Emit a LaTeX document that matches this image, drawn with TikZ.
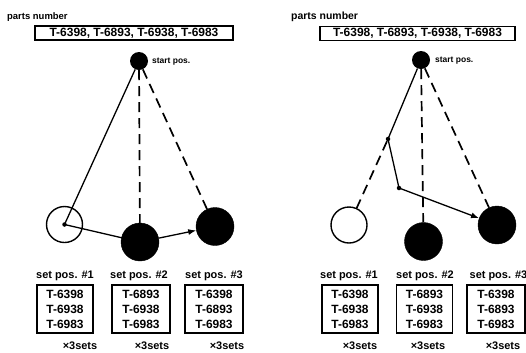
\documentclass[tikz,border=0pt]{standalone}
\usepackage{fontspec}
\setmainfont{Liberation Sans}
\usetikzlibrary{arrows.meta}

\newcommand\fsz[2]{\fontsize{#1}{#2}\selectfont\bfseries}

\tikzset{
  bigdot/.style={circle, fill=black, draw=black, minimum size=38bp, inner sep=0},
  hollow/.style={circle, draw=black, line width=1.4bp, minimum size=36bp, inner sep=0},
  startdot/.style={circle, fill=black, minimum size=18bp, inner sep=0},
  tinydot/.style={circle, fill=black, minimum size=4.5bp, inner sep=0},
  pathline/.style={line width=1.3bp},
  guide/.style={line width=1.7bp, dash pattern=on 10bp off 6bp},
  movearrow/.style={pathline, -{Latex[length=8bp,width=6bp]}},
  topbox/.style={draw, line width=1.6bp, minimum height=14bp, inner sep=0, font=\fsz{12}{14}},
  listbox/.style={draw, line width=1.6bp, minimum width=56bp, minimum height=48bp,
                  inner sep=0, align=center, font=\fsz{12}{15}},
  caption/.style={inner sep=0, font=\fsz{11}{12}},
  setcount/.style={inner sep=0, font=\fsz{11}{12}},
}

\begin{document}
\begin{tikzpicture}[x=1bp, y=-1bp]
\useasboundingbox (0,0) rectangle (526,352);

% ---------------- left panel: direct move ----------------
\node[anchor=base west, inner sep=0, font=\fsz{9.5}{11}] (pnL) at (7,19) {parts number};
\node[topbox, minimum width=198bp] (listL) at (134,33) {T-6398, T-6893, T-6938, T-6983};

\node[startdot] (sL) at (139,61) {};
\node[anchor=west, inner sep=0, font=\fsz{8.5}{10}] (spL) at (152,62) {start pos.};

\node[hollow]  (oL) at (64.5,224.5) {};
\node[bigdot]  (mL) at (140,242) {};
\node[bigdot]  (rL) at (215,226.5) {};
\node[tinydot] (cL) at (oL.center) {};

\draw[pathline] (sL) -- (cL.center);
\draw[guide] (sL) -- (mL);
\draw[guide] (sL) -- (rL);
\draw[pathline] (cL.center) -- (mL.center);
\draw[movearrow] (mL) -- (rL);

\node[caption] (t1L) at (65,276)  {set pos. \#1};
\node[caption] (t2L) at (139,276) {set pos. \#2};
\node[caption] (t3L) at (214,276) {set pos. \#3};

\node[listbox] (b1L) at (65,309)  {T-6398\\T-6938\\T-6983};
\node[listbox, minimum width=58bp] (b2L) at (141,309) {T-6893\\T-6938\\T-6983};
\node[listbox, minimum width=58bp] (b3L) at (214,309) {T-6398\\T-6893\\T-6983};

\node[setcount] (n1L) at (80,346)  {×3sets};
\node[setcount] (n2L) at (152,346) {×3sets};
\node[setcount] (n3L) at (227,346) {×3sets};

% ---------------- right panel: move via waypoints ----------------
\node[anchor=base west, inner sep=0, font=\fsz{10.5}{12}] (pnR) at (291,19) {parts number};
\node[topbox, minimum width=195bp] (listR) at (417.5,33.5) {T-6398, T-6893, T-6938, T-6983};

\node[startdot] (sR) at (421,60) {};
\node[anchor=west, inner sep=0, font=\fsz{8.5}{10}] (spR) at (435,61) {start pos.};

\node[hollow] (oR) at (349,225) {};
\node[bigdot] (mR) at (423.5,241.5) {};
\node[bigdot] (rR) at (497,225) {};
\node[tinydot] (w1) at (388,139) {};
\node[tinydot] (w2) at (399,188) {};

\draw[guide] (w1) -- (oR);
\draw[guide] (sR) -- (mR);
\draw[guide] (sR) -- (rR);
\draw[pathline] (sR) -- (w1.center) -- (w2.center);
\draw[movearrow] (w2.center) -- (rR);

\node[caption] (t1R) at (349,276)   {set pos. \#1};
\node[caption] (t2R) at (425,276)   {set pos. \#2};
\node[caption] (t3R) at (498.5,276) {set pos. \#3};

\node[listbox] (b1R) at (350,309) {T-6398\\T-6938\\T-6983};
\node[listbox] (b2R) at (424.5,309) {T-6893\\T-6938\\T-6983};
\node[listbox, minimum width=58bp] (b3R) at (496,309) {T-6398\\T-6893\\T-6983};

\node[setcount] (n1R) at (360,346) {×3sets};
\node[setcount] (n2R) at (428,346) {×3sets};
\node[setcount] (n3R) at (503,346) {×3sets};
\end{tikzpicture}
\end{document}
